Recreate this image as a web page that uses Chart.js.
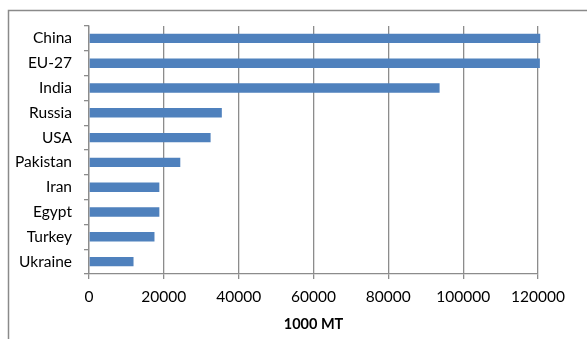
<!DOCTYPE html>
<html>
<head>
<meta charset="utf-8">
<script src="https://cdn.jsdelivr.net/npm/chart.js@4/dist/chart.umd.min.js"></script>
<style>
  html, body { margin: 0; padding: 0; background: #fff; }
  #wrap { width: 587px; height: 339px; position: relative; }
</style>
</head>
<body>
<div id="wrap"><canvas id="c" width="587" height="339"></canvas></div>
<script>
// Production by country, in 1000 metric tonnes
const countries = ["China", "EU-27", "India", "Russia", "USA", "Pakistan", "Iran", "Egypt", "Turkey", "Ukraine"];
const production = [120600, 120500, 93700, 35500, 32500, 24400, 18800, 18800, 17500, 11900];
const axisTicks = [0, 20000, 40000, 60000, 80000, 100000, 120000];
const axisTitle = "1000 MT";

const FONT = "Lato, 'Open Sans', sans-serif";
const GRID = "#8c8c8c";

// Outer frame line of the chart box (top and left edges)
const framePlugin = {
  id: "frame",
  beforeDraw(chart) {
    const ctx = chart.ctx;
    ctx.save();
    ctx.strokeStyle = "#8a8a8a";
    ctx.lineWidth = 1.5;
    ctx.beginPath();
    ctx.moveTo(8.5, chart.height);
    ctx.lineTo(8.5, 10.5);
    ctx.lineTo(chart.width, 10.5);
    ctx.stroke();
    ctx.restore();
  }
};

new Chart(document.getElementById("c"), {
  type: "bar",
  data: {
    labels: countries,
    datasets: [{
      data: production,
      backgroundColor: "#4f81bd",
      borderWidth: 0,
      clip: false,
      barPercentage: 0.76,
      categoryPercentage: 0.5
    }]
  },
  options: {
    indexAxis: "y",
    responsive: false,
    animation: false,
    events: [],
    layout: { padding: { left: 0, right: 49, top: 26, bottom: 0 } },
    plugins: { legend: { display: false }, tooltip: { enabled: false } },
    scales: {
      x: {
        min: 0,
        max: 120000,
        afterBuildTicks(scale) { scale.ticks = axisTicks.map(v => ({ value: v })); },
        afterFit(scale) { scale.height = 65; },
        grid: { color: GRID, lineWidth: 1.3, drawTicks: true, tickLength: 5, tickColor: GRID },
        border: { color: GRID, width: 1.3 },
        ticks: {
          color: "#000",
          font: { family: FONT, size: 15.5 },
          padding: 9,
          maxRotation: 0,
          callback: v => String(v)
        },
        title: { display: true, text: axisTitle, color: "#000", font: { family: FONT, size: 14.5, weight: "bold" }, padding: { top: 0, bottom: 6 } }
      },
      y: {
        afterFit(scale) { scale.width = 89; },
        grid: { display: true, offset: true, drawOnChartArea: false, drawTicks: true, tickLength: 5, color: GRID, lineWidth: 1.3 },
        border: { color: GRID, width: 1.3 },
        ticks: { color: "#000", font: { family: FONT, size: 15.5 }, padding: 12 }
      }
    }
  },
  plugins: [framePlugin]
});
</script>
</body>
</html>
